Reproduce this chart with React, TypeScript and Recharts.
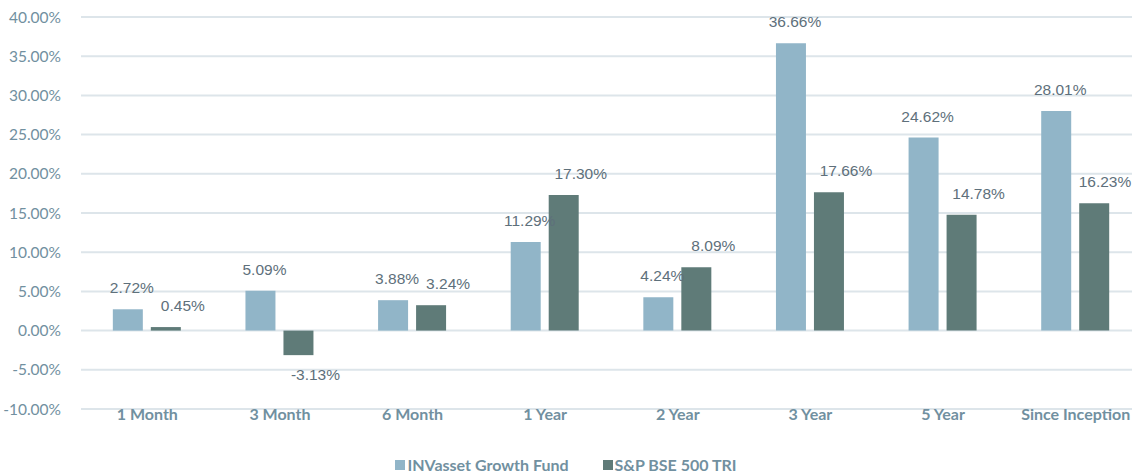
import { BarChart, Bar, XAxis, YAxis, CartesianGrid, Legend, LabelList } from 'recharts';

// Trailing returns by period
const periods = ['1 Month', '3 Month', '6 Month', '1 Year', '2 Year', '3 Year', '5 Year', 'Since Inception'];
const fundReturns = [2.72, 5.09, 3.88, 11.29, 4.24, 36.66, 24.62, 28.01];
const indexReturns = [0.45, -3.13, 3.24, 17.3, 8.09, 17.66, 14.78, 16.23];
const yTicks = [-10, -5, 0, 5, 10, 15, 20, 25, 30, 35, 40];

const FUND = 'INVasset Growth Fund';
const INDEX = 'S&P BSE 500 TRI';

const FUND_COLOR = '#91b5c8';
const INDEX_COLOR = '#5f7b78';
const AXIS_TEXT = '#7190a0';
const LABEL_TEXT = '#5e707b';

const data = periods.map((name, i) => ({
  name,
  [FUND]: fundReturns[i],
  [INDEX]: indexReturns[i],
}));

const fmt = (v: number) => `${v.toFixed(2)}%`;

// value label above the bar end (below for negatives), nudged right like the original
const makeLabel = (dx: number) => (props: any) => {
  const { x, y, width, height, value } = props;
  const top = Math.min(y, y + height);
  const bottom = Math.max(y, y + height);
  const cy = value < 0 ? bottom + 21 : top - 20;
  // keep the last label inside the picture
  const cx = Math.min(x + width / 2 + dx, 1105);
  return (
    <text
      x={cx}
      y={cy}
      textAnchor="middle"
      dominantBaseline="middle"
      fill={LABEL_TEXT}
      fontSize={15.5}
      fontFamily="'Liberation Sans', Arial, sans-serif"
    >
      {fmt(value)}
    </text>
  );
};

const FundLabel = makeLabel(4);
const IndexLabel = makeLabel(17);

const CustomLegend = () => (
  <div
    style={{
      display: 'flex',
      justifyContent: 'center',
      gap: 34,
      paddingTop: 16,
      paddingRight: 10,
      fontFamily: 'Lato, sans-serif',
      fontWeight: 700,
      fontSize: 16,
      color: AXIS_TEXT,
    }}
  >
    {[
      { label: FUND, color: FUND_COLOR },
      { label: INDEX, color: INDEX_COLOR },
    ].map((s) => (
      <div key={s.label} style={{ display: 'flex', alignItems: 'center', gap: 2 }}>
        <div style={{ width: 10, height: 10, backgroundColor: s.color }} />
        <span>{s.label}</span>
      </div>
    ))}
  </div>
);

export default function App() {
  return (
    <div style={{ position: 'absolute', left: 0, top: 0, width: 1132, height: 473, overflow: 'hidden', background: '#fff' }}>
      <BarChart
        width={1142}
        height={473}
        data={data}
        margin={{ top: 17, right: 0, left: 0, bottom: 0 }}
        barCategoryGap="24%"
        barGap={8}
      >
        <CartesianGrid vertical={false} stroke="#dde5ea" strokeWidth={2} />
        <XAxis
          dataKey="name"
          axisLine={false}
          tickLine={false}
          tickSize={0}
          tickMargin={0}
          height={30}
          interval={0}
          tick={{ fill: AXIS_TEXT, fontSize: 16, fontWeight: 700, fontFamily: 'Lato, sans-serif' }}
        />
        <YAxis
          domain={[-10, 40]}
          ticks={yTicks}
          tickFormatter={fmt}
          axisLine={false}
          tickLine={false}
          width={81}
          tickMargin={14}
          tick={{ fill: AXIS_TEXT, fontSize: 15.5, fontFamily: 'Lato, sans-serif' }}
        />
        <Legend verticalAlign="bottom" height={34} content={<CustomLegend />} />
        <Bar dataKey={FUND} fill={FUND_COLOR} isAnimationActive={false}>
          <LabelList dataKey={FUND} content={<FundLabel />} />
        </Bar>
        <Bar dataKey={INDEX} fill={INDEX_COLOR} isAnimationActive={false}>
          <LabelList dataKey={INDEX} content={<IndexLabel />} />
        </Bar>
      </BarChart>
    </div>
  );
}
